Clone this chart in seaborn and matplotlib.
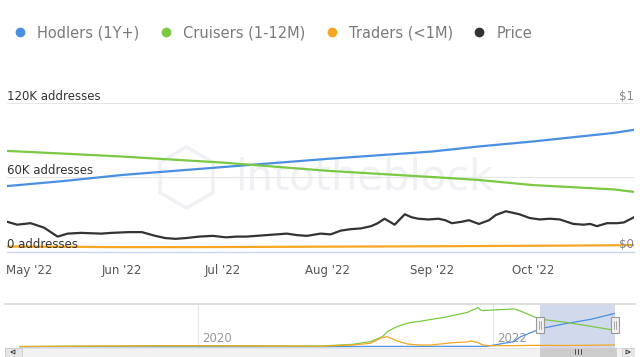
import matplotlib
matplotlib.use("Agg")
import numpy as np
import pandas as pd
import seaborn as sns
import matplotlib.pyplot as plt
import matplotlib.dates as mdates
import matplotlib.transforms as mtransforms
from matplotlib.patches import Rectangle
from matplotlib.lines import Line2D

sns.set_theme(style="white")
plt.rcParams["font.family"] = ["DejaVu Sans"]

# ---------------- data ----------------
series_names = ["Hodlers (1Y+)", "Cruisers (1-12M)", "Traders (<1M)", "Price"]
series_colors = ["#4a90e2", "#7ac943", "#f5a623", "#333333"]

addr_dates = ["2022-04-28", "2022-05-15", "2022-06-01", "2022-07-01", "2022-08-01",
              "2022-09-01", "2022-09-15", "2022-10-01", "2022-10-25", "2022-10-31"]
hodlers = [52700, 56800, 61600, 68000, 74600, 80500, 84600, 88600, 95500, 98000]
cruisers = [81000, 78800, 76500, 71600, 65000, 60000, 57600, 53500, 50000, 48000]
traders = [4000, 3800, 3500, 3600, 3900, 4200, 4400, 4600, 5000, 5200]

price_dates = ["2022-04-28", "2022-05-01", "2022-05-03", "2022-05-05", "2022-05-07", "2022-05-09",
               "2022-05-13", "2022-05-16", "2022-05-20", "2022-05-26", "2022-05-29", "2022-06-03",
               "2022-06-07", "2022-06-11", "2022-06-14", "2022-06-17", "2022-06-20", "2022-06-24",
               "2022-06-28", "2022-07-02", "2022-07-05", "2022-07-08", "2022-07-11", "2022-07-14",
               "2022-07-17", "2022-07-20", "2022-07-23", "2022-07-26", "2022-07-30", "2022-08-02",
               "2022-08-05", "2022-08-08", "2022-08-11", "2022-08-14", "2022-08-16", "2022-08-18",
               "2022-08-21", "2022-08-24", "2022-08-26", "2022-08-28", "2022-08-31", "2022-09-03",
               "2022-09-05", "2022-09-07", "2022-09-10", "2022-09-12", "2022-09-15", "2022-09-18",
               "2022-09-20", "2022-09-23", "2022-09-25", "2022-09-27", "2022-09-30", "2022-10-03",
               "2022-10-06", "2022-10-09", "2022-10-11", "2022-10-13", "2022-10-16", "2022-10-18",
               "2022-10-20", "2022-10-23", "2022-10-26", "2022-10-28", "2022-10-31"]
price = [0.200, 0.180, 0.185, 0.190, 0.175, 0.160,
         0.100, 0.120, 0.125, 0.120, 0.125, 0.130,
         0.130, 0.105, 0.090, 0.085, 0.090, 0.100,
         0.105, 0.095, 0.100, 0.100, 0.105, 0.110,
         0.115, 0.120, 0.110, 0.105, 0.120, 0.115,
         0.140, 0.150, 0.155, 0.170, 0.190, 0.220,
         0.180, 0.250, 0.230, 0.220, 0.215, 0.220,
         0.210, 0.190, 0.200, 0.210, 0.185, 0.210,
         0.245, 0.270, 0.260, 0.250, 0.225, 0.215,
         0.220, 0.215, 0.200, 0.185, 0.180, 0.185,
         0.170, 0.190, 0.190, 0.195, 0.230]

# navigator (full history)
nav_dates = ["2018-10-15", "2019-03-01", "2019-06-01", "2019-10-01", "2020-02-01", "2020-06-01",
             "2020-10-30", "2021-01-19", "2021-03-03", "2021-04-01", "2021-04-15", "2021-05-08",
             "2021-06-03", "2021-06-10", "2021-07-06", "2021-07-31", "2021-09-10", "2021-09-25",
             "2021-10-30", "2021-11-06", "2021-11-25", "2021-12-01", "2021-12-08", "2021-12-19",
             "2022-01-04", "2022-02-07", "2022-02-22", "2022-03-10", "2022-04-13", "2022-04-28",
             "2022-07-01", "2022-09-01", "2022-10-31"]
nav_hodlers = [0, 0, 0, 0, 0, 0,
               0, 500, 800, 800, 800, 800,
               800, 800, 800, 800, 1000, 1000,
               1000, 1000, 1000, 1000, 1000, 1200,
               5000, 12000, 15000, 29000, 45000, 52700,
               68000, 80500, 98000]
nav_cruisers = [500, 1500, 2000, 3000, 3000, 2500,
                2000, 7000, 15000, 29000, 45000, 59000,
                69000, 71000, 75000, 80000, 88000, 92000,
                101000, 105000, 115000, 108000, 106000, 107000,
                108000, 110000, 111000, 105000, 88000, 81000,
                71600, 60000, 48000]
nav_traders = [500, 1500, 2000, 2500, 2500, 2000,
               1500, 5000, 10000, 27000, 29000, 17000,
               8000, 7000, 5000, 5000, 10000, 12000,
               14000, 17000, 12000, 8000, 5000, 3000,
               3000, 3000, 3000, 3500, 4000, 4000,
               3600, 4200, 5200]

y_ticks = [0, 60000, 120000]
y_tick_labels = ["0 addresses", "60K addresses", "120K addresses"]
price_ticks = [0, 1]
price_tick_labels = ["$0", "$1"]
nav_year_labels = ["2020", "2022"]

# ---------------- frames ----------------
df = pd.DataFrame({
    "date": pd.to_datetime(addr_dates * 3),
    "value": hodlers + cruisers + traders,
    "series": [series_names[0]] * len(addr_dates) + [series_names[1]] * len(addr_dates)
              + [series_names[2]] * len(addr_dates),
})
price_df = pd.DataFrame({"date": pd.to_datetime(price_dates), "price": price})
nav_df = pd.DataFrame({
    "date": pd.to_datetime(nav_dates * 3),
    "value": nav_hodlers + nav_cruisers + nav_traders,
    "series": [series_names[0]] * len(nav_dates) + [series_names[1]] * len(nav_dates)
              + [series_names[2]] * len(nav_dates),
})
palette = dict(zip(series_names, series_colors))

W, H = 640, 357
fig = plt.figure(figsize=(6.4, 3.57), dpi=100)
fig.patch.set_facecolor("white")

def fx(px):
    return px / W

def fy(py):
    return 1 - py / H

# ---------------- main chart ----------------
ax = fig.add_axes([fx(7), fy(251.5), fx(627), (251.5 - 102.5) / H])
ax.set_facecolor("none")

# watermark
ax.text(0.57, 0.50, "intotheblock", transform=ax.transAxes, fontsize=30,
        color="#eff1f5", ha="center", va="center", zorder=0)
ax.plot([0.285], [0.50], transform=ax.transAxes, marker="h", markersize=44,
        mfc="none", mec="#eff1f5", mew=2.5, zorder=0)

sns.lineplot(data=df, x="date", y="value", hue="series", palette=palette, ax=ax,
             legend=False, linewidth=1.6, zorder=3)
ax.set_ylim(0, 120000)
xmin = pd.Timestamp(addr_dates[0])
xmax = pd.Timestamp(addr_dates[-1])
ax.set_xlim(xmin, xmax)
ax.set_xlabel("")
ax.set_ylabel("")
ax.set_yticks(y_ticks)
ax.set_yticklabels([])
ax.tick_params(axis="y", length=0)
ax.grid(axis="y", color="#e6e6e6", lw=0.8)
ax.grid(axis="x", visible=False)
for s in ["top", "left", "right"]:
    ax.spines[s].set_visible(False)
ax.spines["bottom"].set_color("#ccd6eb")
ax.spines["bottom"].set_linewidth(1)

ax.xaxis.set_major_locator(mdates.MonthLocator())
ax.xaxis.set_major_formatter(mdates.DateFormatter("%b '%y"))
ax.tick_params(axis="x", direction="out", length=6, color="#ccd6eb", width=1,
               labelsize=8.5, labelcolor="#555555", pad=3)

ytrans = ax.get_yaxis_transform()
for v, lab in zip(y_ticks, y_tick_labels):
    ax.text(0.0, v, lab, transform=ytrans, ha="left", va="bottom", fontsize=8.5,
            color="#333333", zorder=5)

# price on secondary axis
ax2 = ax.twinx()
sns.lineplot(data=price_df, x="date", y="price", ax=ax2, color=series_colors[3],
             linewidth=1.6, legend=False, zorder=3)
ax2.set_ylim(0, 1)
ax2.set_xlim(xmin, xmax)
ax2.set_ylabel("")
ax2.set_yticks(price_ticks)
ax2.set_yticklabels([])
ax2.tick_params(axis="y", length=0)
ax2.grid(False)
for s in ax2.spines.values():
    s.set_visible(False)
y2trans = ax2.get_yaxis_transform()
for v, lab in zip(price_ticks, price_tick_labels):
    ax2.text(1.0, v, lab, transform=y2trans, ha="right", va="bottom", fontsize=8.5,
             color="#888888", zorder=5)

# legend
handles = [Line2D([], [], marker="o", linestyle="", markersize=6, color=c) for c in series_colors]
fig.legend(handles, series_names, loc="center left", bbox_to_anchor=(fx(13), fy(33)),
           ncol=4, frameon=False, fontsize=10.5, handletextpad=0.75, columnspacing=1.35,
           handlelength=0.9, labelcolor="#7a7a7a", borderaxespad=0, borderpad=0)

# ---------------- navigator ----------------
nav = fig.add_axes([fx(7), fy(348), fx(608), 44 / H])
nav.set_facecolor("none")
nmin = pd.Timestamp("2018-09-13")
nav.set_xlim(nmin, pd.Timestamp(nav_dates[-1]))
nav.set_ylim(-3800, 125500)
sns.lineplot(data=nav_df, x="date", y="value", hue="series", palette=palette, ax=nav,
             legend=False, linewidth=0.9, zorder=3)
nav.set_xlabel("")
nav.set_ylabel("")
nav.set_xticks([])
nav.set_yticks([])
nav.grid(False)
for s in nav.spines.values():
    s.set_visible(False)
btrans = mtransforms.blended_transform_factory(nav.transData, nav.transAxes)
for lab in nav_year_labels:
    d = mdates.date2num(pd.Timestamp(f"{lab}-01-01"))
    nav.plot([d, d], [0, 1], transform=btrans, color="#e6e6e6", lw=0.8, zorder=1)
    nav.annotate(lab, xy=(d, 0.06), xycoords=btrans, xytext=(3, 0), textcoords="offset points",
                 ha="left", va="bottom", fontsize=8.5, color="#999999", zorder=2)

sel0 = mdates.date2num(pd.Timestamp(addr_dates[0]))
sel1 = mdates.date2num(pd.Timestamp(addr_dates[-1]))
nav.axvspan(sel0, sel1, color=(102 / 255, 133 / 255, 194 / 255, 0.3), lw=0, zorder=2)
hw = 10  # half handle width in days
for d in (sel0, sel1):
    nav.add_patch(Rectangle((d - hw, 0.33), 2 * hw, 0.38, transform=btrans,
                            facecolor="#f2f2f2", edgecolor="#999999", lw=0.8, zorder=6,
                            clip_on=False))
    for off in (-3, 3):
        nav.plot([d + off, d + off], [0.43, 0.61], transform=btrans, color="#999999",
                 lw=0.6, zorder=7, clip_on=False)

# top border of navigator
fig.add_artist(Line2D([fx(5), fx(635)], [fy(303.5), fy(303.5)], transform=fig.transFigure,
                      color="#d8d8d8", lw=1.2))

# scrollbar
sb = fig.add_axes([fx(5), 0, fx(630), 9 / H])
sb.set_xlim(5, 635)
sb.set_ylim(0, 9)
sb.axis("off")
sb.add_patch(Rectangle((5, 0), 630, 9, facecolor="#f2f2f2", edgecolor="#e0e0e0", lw=0.6))
sb.add_patch(Rectangle((5, 0), 17, 9, facecolor="#e6e6e6", edgecolor="#cccccc", lw=0.6))
sb.add_patch(Rectangle((622, 0), 13, 9, facecolor="#e6e6e6", edgecolor="#cccccc", lw=0.6))
sb.add_patch(Rectangle((540, 0), 76, 9, facecolor="#cccccc", edgecolor="#cccccc", lw=0.6))
for off in (-3, 0, 3):
    sb.plot([578 + off, 578 + off], [3, 8], color="#333333", lw=0.6)
sb.plot([11, 15, 15, 11], [5, 3, 7, 5], color="#333333", lw=0.6)
sb.plot([630, 626, 626, 630], [5, 3, 7, 5], color="#333333", lw=0.6)

# first x label shifted right so it stays inside (as in the reference)
fig.canvas.draw()
first = ax.get_xticklabels()[0]
first.set_horizontalalignment("left")
first.set_transform(first.get_transform()
                    + mtransforms.ScaledTranslation(-0.11, 0, fig.dpi_scale_trans))

fig.savefig("out.png", dpi=100, facecolor="white")
